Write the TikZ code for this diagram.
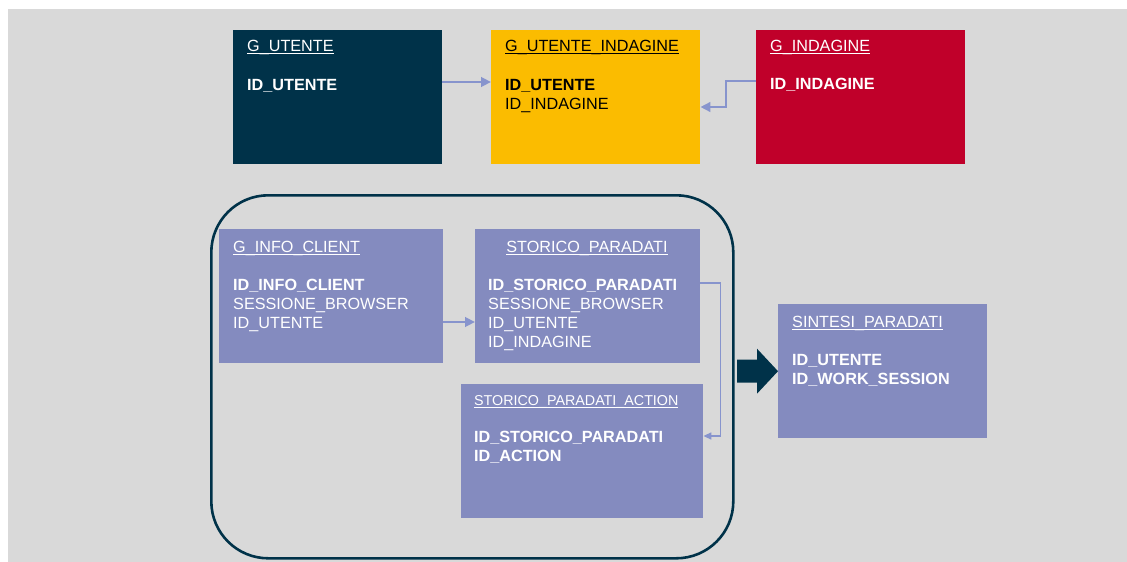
\documentclass[tikz,border=0pt]{standalone}
\usepackage{fontspec}
\setmainfont{Liberation Sans}
\usetikzlibrary{arrows.meta,calc}

\definecolor{bggray}{RGB}{217,217,217}
\definecolor{navy}{RGB}{0,50,73}
\definecolor{amber}{RGB}{251,188,0}
\definecolor{crimson}{RGB}{192,0,42}
\definecolor{lavender}{RGB}{132,139,191}
\definecolor{linkblue}{RGB}{135,148,205}

% underlined table name, the rule running through the underscores
\newcommand{\tblname}[1]{\setbox0\hbox{#1}\rlap{\rule[-2.8pt]{\wd0}{0.9pt}}\box0}

\tikzset{
  tablebox/.style={rectangle, draw=none, anchor=north west, inner sep=0pt,
    minimum height=134pt},
  tabletitle/.style={anchor=base west, inner sep=0pt,
    font=\fontsize{16.2}{19}\selectfont},
  tablefields/.style={anchor=base west, inner sep=0pt, text width=200pt,
    align=left, font=\fontsize{16.2}{19}\selectfont},
  link/.style={draw=linkblue, line width=2.6pt,
    -{Triangle[length=10pt,width=9.5pt]}},
  thinlink/.style={draw=linkblue, line width=1.4pt,
    -{Triangle[length=8pt,width=7pt]}},
}

\begin{document}
\begin{tikzpicture}[x=1pt,y=-1pt]
\useasboundingbox (0,0) rectangle (1127,562);
\fill[bggray] (8,9) rectangle (1127,562);

% --- top row -------------------------------------------------------------
\node[tablebox, fill=navy, minimum width=209pt] (gu) at (233,30) {};
\node[tabletitle, text=white] (gu-t) at (247,51) {\tblname{G\_UTENTE}};
\node[tablefields, text=white] (gu-f) at (247,90) {\textbf{ID\_UTENTE}};

\node[tablebox, fill=amber, minimum width=209pt] (gui) at (491,30) {};
\node[tabletitle, text=black] (gui-t) at (505,51) {\tblname{G\_UTENTE\_INDAGINE}};
\node[tablefields, text=black] (gui-f) at (505,90) {\textbf{ID\_UTENTE}\\ID\_INDAGINE};

\node[tablebox, fill=crimson, minimum width=209pt] (gi) at (756,30) {};
\node[tabletitle, text=white] (gi-t) at (770,51) {\tblname{G\_INDAGINE}};
\node[tablefields, text=white] (gi-f) at (770,89) {\textbf{ID\_INDAGINE}};

\draw[link] ($(gu.north east)+(0,52)$) -- ($(gui.north west)+(0,52)$);
\draw[link] ($(gi.north west)+(0,51)$) -- ++(-30,0) |- ($(gui.north east)+(0,77)$);

% --- paradata group ------------------------------------------------------
\node[rectangle, draw=navy, line width=2.6pt, rounded corners=57pt,
      anchor=north west, inner sep=0pt,
      minimum width=522pt, minimum height=363pt] (group) at (210,194) {};

\node[tablebox, fill=lavender, minimum width=224pt] (gic) at (219,229) {};
\node[tabletitle, text=white] (gic-t) at (233,252) {\tblname{G\_INFO\_CLIENT}};
\node[tablefields, text=white] (gic-f) at (233,290)
  {\textbf{ID\_INFO\_CLIENT}\\SESSIONE\_BROWSER\\ID\_UTENTE};

\node[tablebox, fill=lavender, minimum width=225pt] (sp) at (475,229) {};
\node[tabletitle, anchor=base, text=white] (sp-t) at (587,252) {\tblname{STORICO\_PARADATI}};
\node[tablefields, text=white] (sp-f) at (488,290)
  {\textbf{ID\_STORICO\_PARADATI}\\SESSIONE\_BROWSER\\ID\_UTENTE\\ID\_INDAGINE};

\node[tablebox, fill=lavender, minimum width=242pt] (spa) at (461,384) {};
\node[tabletitle, text=white, font=\fontsize{14.3}{17}\selectfont] (spa-t) at (474,405.5)
  {\tblname{STORICO\_PARADATI\_ACTION}};
\node[tablefields, text=white] (spa-f) at (474,442.5)
  {\textbf{ID\_STORICO\_PARADATI}\\\textbf{ID\_ACTION}};

\draw[link] ($(gic.north east)+(0,93)$) -- ($(sp.north west)+(0,93)$);
\draw[thinlink] ($(sp.north east)+(0,54)$) -- ++(20,0) |- ($(spa.north east)+(0,52)$);

% --- summary table -------------------------------------------------------
\node[tablebox, fill=lavender, minimum width=209pt] (sint) at (778,304) {};
\node[tabletitle, text=white] (sint-t) at (792,327) {\tblname{SINTESI\_PARADATI}};
\node[tablefields, text=white] (sint-f) at (792,365)
  {\textbf{ID\_UTENTE}\\\textbf{ID\_WORK\_SESSION}};

% block arrow from the group into the summary table
\fill[navy] (sint.west) -- ++(-21,-22.5) -- ++(0,11) -- ++(-20,0)
  -- ++(0,23) -- ++(20,0) -- ++(0,11) -- cycle;
\end{tikzpicture}
\end{document}
